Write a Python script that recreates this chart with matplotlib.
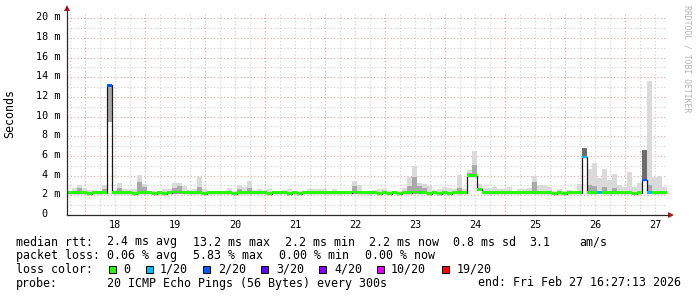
import matplotlib
matplotlib.use('Agg')
import matplotlib.pyplot as plt
from matplotlib.patches import Rectangle
import numpy as np

# ---------------- data ----------------
t_start = 17.7          # day-of-month of first sample
step_hours = 2          # sample length

median = [2.25, 2.25, 2.25, 2.25, 2.15, 2.25, 2.25, 2.25, 13.2, 2.25, 2.25, 2.25,
          2.25, 2.15, 2.25, 2.25, 2.25, 2.15, 2.25, 2.15, 2.25, 2.35, 2.35, 2.25,
          2.25, 2.25, 2.25, 2.15, 2.25, 2.25, 2.25, 2.25, 2.25, 2.15, 2.25, 2.25,
          2.25, 2.25, 2.25, 2.25, 2.15, 2.25, 2.25, 2.25, 2.15, 2.25, 2.15, 2.25,
          2.25, 2.25, 2.25, 2.25, 2.25, 2.25, 2.25, 2.25, 2.25, 2.35, 2.25, 2.25,
          2.25, 2.25, 2.15, 2.25, 2.15, 2.25, 2.15, 2.25, 2.25, 2.35, 2.25, 2.25,
          2.15, 2.25, 2.15, 2.25, 2.15, 2.25, 2.25, 2.25, 4.0, 4.0, 2.6, 2.25,
          2.25, 2.25, 2.25, 2.25, 2.25, 2.25, 2.25, 2.25, 2.25, 2.25, 2.25, 2.25,
          2.25, 2.15, 2.25, 2.15, 2.25, 2.25, 2.25, 5.9, 2.25, 2.25, 2.3, 2.25,
          2.25, 2.25, 2.25, 2.25, 2.25, 2.15, 2.25, 3.55, 2.3, 2.25, 2.25, 2.25]

loss = [0, 0, 0, 0, 0, 0, 0, 0, 2, 0, 0, 0,
        0, 0, 0, 0, 0, 0, 0, 0, 0, 0, 0, 0,
        0, 0, 0, 0, 0, 0, 0, 0, 0, 0, 0, 0,
        0, 0, 0, 0, 0, 0, 0, 0, 0, 0, 0, 0,
        0, 0, 0, 0, 0, 0, 0, 0, 0, 0, 0, 0,
        0, 0, 0, 0, 0, 0, 0, 0, 0, 0, 0, 0,
        0, 0, 0, 0, 0, 0, 0, 0, 0, 0, 0, 0,
        0, 0, 0, 0, 0, 0, 0, 0, 0, 0, 0, 0,
        0, 0, 0, 0, 0, 0, 0, 1, 0, 0, 1, 0,
        0, 0, 0, 0, 0, 0, 0, 2, 1, 0, 0, 0]

smoke_lo = [2.15, 2.15, 2.15, 2.15, 2.15, 2.15, 2.15, 2.15, 9.5, 2.15, 2.15, 2.15,
            2.15, 2.15, 2.15, 2.15, 2.15, 2.15, 2.15, 2.15, 2.15, 2.15, 2.15, 2.15,
            2.15, 2.15, 2.15, 2.15, 2.15, 2.15, 2.15, 2.15, 2.15, 2.15, 2.15, 2.15,
            2.15, 2.15, 2.15, 2.15, 2.15, 2.15, 2.15, 2.15, 2.15, 2.15, 2.15, 2.15,
            2.15, 2.15, 2.15, 2.15, 2.15, 2.15, 2.15, 2.15, 2.15, 2.15, 2.15, 2.15,
            2.15, 2.15, 2.15, 2.15, 2.15, 2.15, 2.15, 2.15, 2.15, 2.15, 2.15, 2.15,
            2.15, 2.15, 2.15, 2.15, 2.15, 2.15, 2.15, 2.15, 4.0, 4.0, 2.5, 2.15,
            2.15, 2.15, 2.15, 2.15, 2.15, 2.15, 2.15, 2.15, 2.15, 2.15, 2.15, 2.15,
            2.15, 2.15, 2.15, 2.15, 2.15, 2.15, 2.15, 5.9, 2.15, 2.15, 2.15, 2.15,
            2.15, 2.15, 2.15, 2.15, 2.15, 2.15, 2.15, 3.55, 2.15, 2.15, 2.15, 2.15]

smoke_core = [2.25, 2.25, 2.7, 2.25, 2.25, 2.25, 2.25, 2.6, 13.2, 2.25, 2.7, 2.25,
              2.25, 2.25, 3.4, 2.8, 2.25, 2.25, 2.25, 2.25, 2.25, 2.7, 2.9, 2.25,
              2.25, 2.25, 2.8, 2.25, 2.25, 2.25, 2.25, 2.25, 2.25, 2.25, 2.6, 2.25,
              2.7, 2.25, 2.25, 2.25, 2.25, 2.25, 2.25, 2.25, 2.25, 2.25, 2.25, 2.25,
              2.25, 2.25, 2.25, 2.25, 2.25, 2.25, 2.25, 2.25, 2.25, 2.9, 2.25, 2.25,
              2.25, 2.25, 2.25, 2.25, 2.25, 2.25, 2.25, 2.25, 2.9, 3.9, 2.9, 2.7,
              2.25, 2.25, 2.25, 2.25, 2.25, 2.25, 2.7, 2.25, 4.3, 5.1, 2.6, 2.25,
              2.25, 2.25, 2.25, 2.25, 2.25, 2.25, 2.25, 2.25, 2.25, 3.4, 2.25, 2.25,
              2.25, 2.25, 2.25, 2.25, 2.25, 2.25, 2.25, 6.8, 3.0, 2.9, 2.25, 2.8,
              2.25, 2.7, 2.25, 2.25, 2.25, 2.25, 2.25, 6.6, 3.0, 2.25, 2.25, 2.25]

smoke_hi = [2.4, 2.72, 3.06, 2.72, 2.55, 2.55, 2.4, 3.06, 13.2, 2.55, 3.3, 2.62,
            2.62, 2.62, 4.08, 3.16, 2.48, 2.48, 2.48, 2.6, 2.62, 3.3, 3.3, 2.9,
            2.5, 2.62, 3.84, 2.62, 2.48, 2.48, 2.4, 2.48, 2.72, 2.48, 3.06, 2.85,
            3.5, 2.5, 2.62, 2.5, 2.62, 2.4, 2.48, 2.55, 2.65, 2.48, 2.4, 2.4,
            2.65, 2.62, 2.62, 2.62, 2.4, 2.62, 2.4, 2.45, 2.48, 3.5, 3.06, 2.48,
            2.48, 2.55, 2.62, 2.62, 2.4, 2.4, 2.48, 2.72, 3.91, 5.03, 3.23, 3.16,
            2.96, 2.5, 2.62, 2.89, 2.72, 2.62, 4.08, 2.62, 4.6, 6.5, 3.2, 2.72,
            2.72, 2.82, 2.62, 2.62, 2.89, 2.48, 2.62, 2.62, 2.72, 3.98, 3.06, 3.06,
            2.89, 2.48, 2.62, 2.48, 2.55, 2.48, 3.16, 6.8, 4.69, 5.27, 3.74, 4.69,
            3.57, 4.18, 3.06, 2.89, 4.39, 2.89, 3.23, 6.6, 13.6, 3.91, 3.98, 2.89]

dark_samples = [103, 115]     # samples whose smoke core is dense (dark)

day_values = [18, 19, 20, 21, 22, 23, 24, 25, 26, 27]
y_values = [0, 2, 4, 6, 8, 10, 12, 14, 16, 18, 20]
y_labels = ['0', '2 m', '4 m', '6 m', '8 m', '10 m', '12 m', '14 m', '16 m', '18 m', '20 m']

loss_levels = [0, 1, 2, 3, 4, 10, 19]
loss_names = ['0', '1/20', '2/20', '3/20', '4/20', '10/20', '19/20']
loss_colors = ['#26ff00', '#00b8ff', '#0059ff', '#5e00ff', '#7e00ff', '#dd00ff', '#ff0000']

legend_rtt = ['median rtt:', '2.4 ms avg', '13.2 ms max', '2.2 ms min', '2.2 ms now',
              '0.8 ms sd', '3.1', 'am/s']
legend_loss = ['packet loss:', '0.06 % avg', '5.83 % max', '0.00 % min', '0.00 % now']
legend_probe = ['probe:', '20 ICMP Echo Pings (56 Bytes) every 300s',
                'end: Fri Feb 27 16:27:13 2026']

# ---------------- layout ----------------
W, H, DPI = 697, 297, 100
AX_L, AX_R, AX_T, AX_B = 67, 667, 13, 215
YMAX = 20.54
MONO = 'DejaVu Sans Mono'

def fx(x):
    return x / W

def fy(y):
    return 1 - y / H

fig = plt.figure(figsize=(W / DPI, H / DPI), dpi=DPI, facecolor='white')
ax = fig.add_axes([fx(AX_L), fy(AX_B), (AX_R - AX_L) / W, (AX_B - AX_T) / H])
ax.set_facecolor('white')
ax.set_xlim(t_start, t_start + 10)
ax.set_ylim(0, YMAX)
for s in ax.spines.values():
    s.set_visible(False)
ax.set_xticks([])
ax.set_yticks([])

n = len(median)
step = step_hours / 24.0
edges = t_start + np.arange(n + 1) * step
left = edges[:-1]
med = np.array(median)
lo = np.array(smoke_lo)
core = np.array(smoke_core)
hi = np.array(smoke_hi)
ls = np.array(loss)

# grid
dotted = (0, (1, 2))
for k in range(1, 21):
    major = (k % 2 == 0)
    ax.axhline(k, color='#e3a6a6' if major else '#cfcfcf', lw=0.8, ls=dotted,
               zorder=0.5)
t6 = np.arange(np.ceil(t_start * 4) / 4, t_start + 10, 0.25)
for t in t6:
    major = abs(t - round(t)) < 1e-6
    ax.axvline(t, color='#e3a6a6' if major else '#cfcfcf', lw=0.8, ls=dotted,
               zorder=0.5)

# smoke
ax.bar(left, hi - lo, bottom=lo, width=step, align='edge', color='#dadada',
       lw=0, zorder=1)
ax.bar(left, core - lo, bottom=lo, width=step, align='edge', color='#a9a9a9',
       lw=0, zorder=1.1)
dk = np.array(dark_samples)
ax.bar(left[dk], core[dk] - lo[dk], bottom=lo[dk], width=step, align='edge',
       color='#6c6c6c', lw=0, zorder=1.2)

# median black trace
ax.stairs(med, edges, baseline=None, color='#1a1a1a', lw=0.9, zorder=2)

# loss-coloured median band
half = 0.14
cls = np.zeros(n, dtype=int)
for j, lv in enumerate(loss_levels):
    cls[ls >= lv] = j
for j, c in enumerate(loss_colors):
    m = cls == j
    if m.any():
        ax.bar(left[m], 2 * half, bottom=med[m] - half, width=step, align='edge',
               color=c, lw=0, zorder=3)

# axes lines with arrows
axis_col = '#2a2a2a'
arrow_col = '#9b1c1c'
top_ext = 1 + 5 / (AX_B - AX_T)
right_ext = 1 + 4 / (AX_R - AX_L)
ax.plot([0, 0], [0, top_ext], transform=ax.transAxes, color=axis_col, lw=0.9,
        clip_on=False, zorder=6)
ax.plot([0, right_ext], [0, 0], transform=ax.transAxes, color=axis_col, lw=0.9,
        clip_on=False, zorder=6)
ax.plot([0], [top_ext], transform=ax.transAxes, marker='^', ms=4.2, color=arrow_col,
        clip_on=False, zorder=7, mew=0)
ax.plot([right_ext], [0], transform=ax.transAxes, marker='>', ms=4.2, color=arrow_col,
        clip_on=False, zorder=7, mew=0)

# tick labels
ppm = (AX_B - AX_T) / YMAX   # pixels per ms
for v, lab in zip(y_values, y_labels):
    xr = 60 if lab != '0' else 48
    ax.text((xr - AX_L) / (AX_R - AX_L), v - 2.0 / ppm, lab,
            transform=ax.get_yaxis_transform(), ha='right', va='baseline',
            family=MONO, fontsize=7.3, color='black')
for d in day_values:
    ax.text(d + 0.5, -(227.5 - AX_B) / (AX_B - AX_T), str(d),
            transform=ax.get_xaxis_transform(), ha='center', va='baseline',
            family=MONO, fontsize=7.3, color='black')

fig.text(fx(10), fy(114), 'Seconds', rotation=90, ha='center', va='center',
         family=MONO, fontsize=8.4)
fig.text(fx(687), fy(5), 'RRDTOOL / TOBI OETIKER', rotation=270, ha='center',
         va='top', family=MONO, fontsize=5.9, color='#b4b4b4')

# legend
lfs = 8.4
for x, s in zip([16, 107, 193, 285, 369, 453, 529, 579], legend_rtt):
    fig.text(fx(x), fy(245.5), s, family=MONO, fontsize=lfs, va='baseline')
for x, s in zip([16, 107, 193, 279, 365], legend_loss):
    fig.text(fx(x), fy(259), s, family=MONO, fontsize=lfs, va='baseline')
fig.text(fx(16), fy(272.7), 'loss color:', family=MONO, fontsize=lfs, va='baseline')
box_x = [109, 146, 203, 261, 319, 377, 442]
lab_x = [123, 160, 218, 276, 334, 391, 457]
for bx, tx, c, name in zip(box_x, lab_x, loss_colors, loss_names):
    fig.add_artist(Rectangle((fx(bx), fy(272.5)), 7 / W, 7 / H, facecolor=c,
                             edgecolor='black', lw=0.7, transform=fig.transFigure))
    fig.text(fx(tx), fy(272.7), name, family=MONO, fontsize=lfs, va='baseline')
for x, s in zip([16, 107, 478], legend_probe):
    fig.text(fx(x), fy(286.5), s, family=MONO, fontsize=lfs, va='baseline')

fig.savefig('out.png', dpi=DPI, facecolor='white')
